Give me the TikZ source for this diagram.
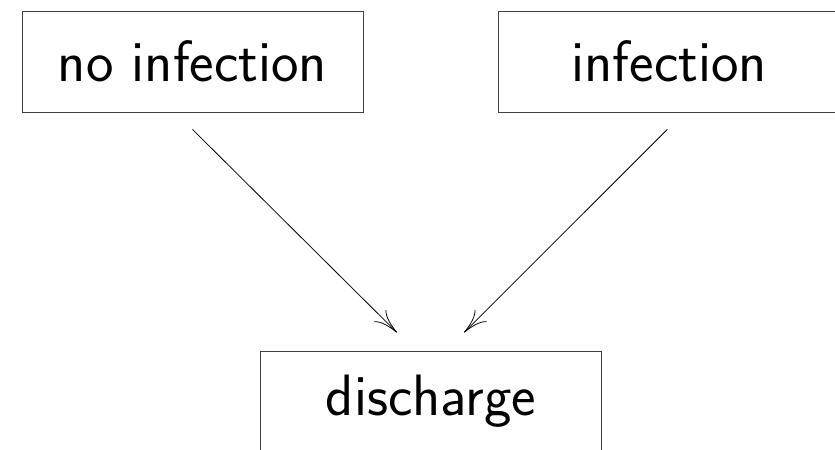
\documentclass[tikz,border=0pt]{standalone}
\usepackage{fontspec}
\usepackage{tikz}
\usetikzlibrary{arrows.meta, positioning, calc}

\begin{document}
\begin{tikzpicture}[
            >={To[length=1.2cm,width=0.85cm]},
            state/.style={rectangle, draw=black!75, line width=1.2pt, minimum width=17.05cm, minimum height=5.05cm, inner sep=0pt, font=\sffamily\fontsize{83}{96}\selectfont}
        ]
        \useasboundingbox (0,0) rectangle (41.75,-22.45);

        \node[state] (no_infection) at (9.625,-3.075) {no infection};
        \node[state, right=6.75cm of no_infection] (infection) {infection};
        \node[state] (discharge) at (21.55,-20.075) {discharge};

        % arrow ends
        \coordinate (no_start) at ($(no_infection.south)+(0,-0.85)$);
        \coordinate (inf_start) at ($(infection.south)+(-0.1,-0.85)$);
        \coordinate (dis_left) at ($(discharge.north)+(-1.7,0.9)$);
        \coordinate (dis_right) at ($(discharge.north)+(1.65,0.9)$);

        \draw[->, line width=1.1pt] (no_start) -- (dis_left);
        \draw[->, line width=1.1pt] (inf_start) -- (dis_right);

    \end{tikzpicture}
\end{document}
